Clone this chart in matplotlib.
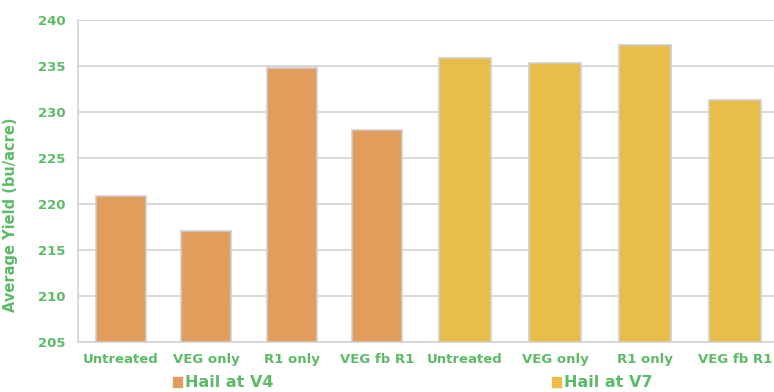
import numpy as np
import matplotlib.pyplot as plt
from matplotlib.patches import Patch

# data
treatments = ["Untreated", "VEG only", "R1 only", "VEG fb R1"]
hail_v4 = [220.9, 217.1, 234.8, 228.0]
hail_v7 = [235.9, 235.3, 237.3, 231.3]
yticks = [205, 210, 215, 220, 225, 230, 235, 240]

green = "#5cbb66"
orange = "#e09d5c"
yellow = "#e8bd48"
grid_c = "#d6d6d6"

W, H = 774, 392
fig = plt.figure(figsize=(W / 100, H / 100), dpi=100)

ax1 = fig.add_axes([78 / W, 50 / H, 342 / W, 322 / H])
ax2 = fig.add_axes([420 / W, 50 / H, 360 / W, 322 / H])

x = np.arange(len(treatments))
for ax, vals, col, name, lx in [(ax1, hail_v4, orange, "Hail at V4", 0.425),
                                (ax2, hail_v7, yellow, "Hail at V7", 0.506)]:
    ax.bar(x, np.array(vals) - 205, bottom=205, width=0.58, color=col,
           edgecolor="#cfcfcf", linewidth=1.2, zorder=3)
    ax.set_xlim(-0.5, len(treatments) - 0.5)
    ax.set_ylim(205, 240)
    ax.set_yticks(yticks)
    ax.grid(axis="y", color=grid_c, linewidth=1.3, zorder=0)
    ax.set_xticks(x)
    ax.set_xticklabels(treatments, color=green, fontweight="bold", fontsize=9.5)
    ax.tick_params(length=0, pad=8)
    for s in ["top", "right"]:
        ax.spines[s].set_visible(False)
    ax.spines["bottom"].set_color(grid_c)
    ax.spines["bottom"].set_linewidth(1.3)
    ax.spines["left"].set_color(grid_c)
    ax.spines["left"].set_linewidth(1.3)
    leg = ax.legend(handles=[Patch(color=col, label=name)], loc="center",
                    bbox_to_anchor=(lx, -0.127), frameon=False,
                    handlelength=0.6, handleheight=0.6, handletextpad=0.2,
                    borderpad=0, prop={"weight": "bold", "size": 11.5})
    for t in leg.get_texts():
        t.set_color(green)

ax1.set_yticklabels([str(v) for v in yticks], color=green, fontweight="bold",
                    fontsize=9.5)
ax1.tick_params(axis="y", pad=9)
ax1.set_ylabel("Average Yield (bu/acre)", color=green, fontweight="bold",
               fontsize=10.5)
ax1.yaxis.set_label_coords(-0.175, 0.394)

ax2.tick_params(axis="y", labelleft=False)
ax2.spines["left"].set_visible(False)

fig.savefig("out.png", dpi=100)
